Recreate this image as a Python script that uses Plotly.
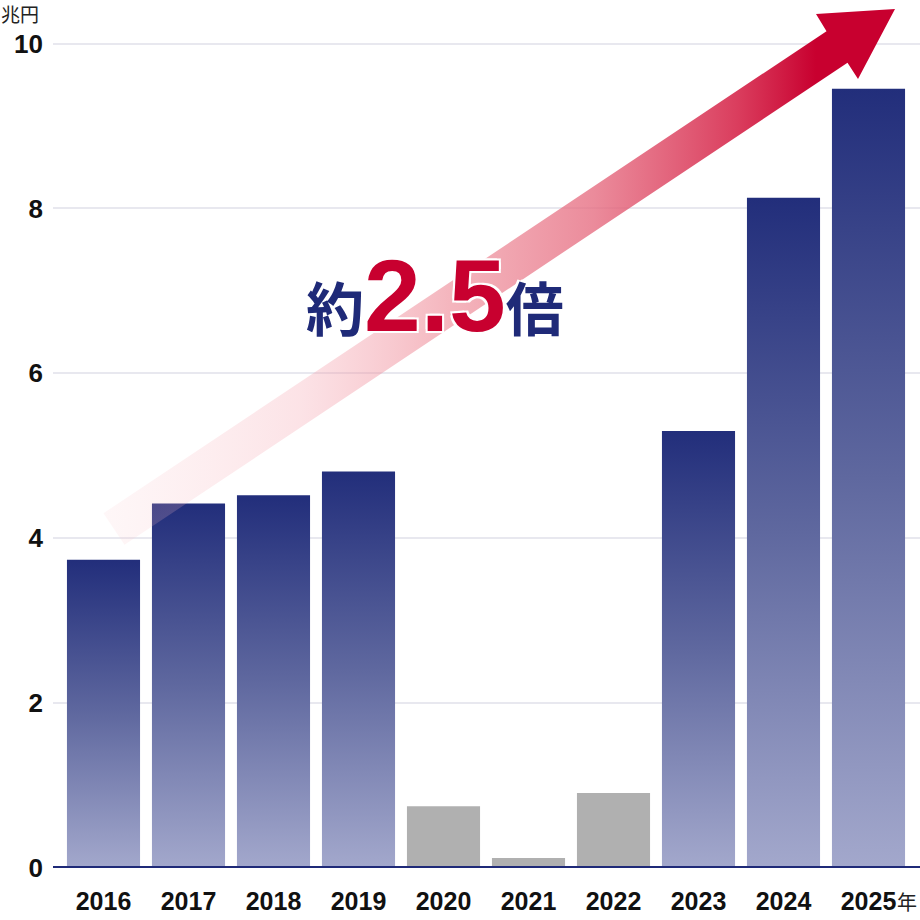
import plotly.graph_objects as go

years = ['2016', '2017', '2018', '2019', '2020', '2021', '2022', '2023', '2024', '2025']
values = [3.74, 4.42, 4.52, 4.81, 0.75, 0.12, 0.91, 5.30, 8.13, 9.45]
grey_years = ['2020', '2021', '2022']
y_ticks = [0, 2, 4, 6, 8, 10]

navy = '#1f2a78'
crimson = '#c8002f'

# pixel -> axis helpers (plot area: x 53..920, y 0..868)
px_per_x = 85.0
px_per_y = 82.45
def ax(px):
    return (px - 103.5) / px_per_x
def ay(py):
    return (868 - py) / px_per_y

fig = go.Figure()

bar_w = 0.86
for i, (yr, v) in enumerate(zip(years, values)):
    xs = [i - bar_w / 2, i + bar_w / 2, i + bar_w / 2, i - bar_w / 2, i - bar_w / 2]
    ys = [0, 0, v, v, 0]
    if yr in grey_years:
        fig.add_trace(go.Scatter(x=xs, y=ys, mode='lines', fill='toself',
                                 fillcolor='#b0b0b0', line=dict(width=0),
                                 hoverinfo='skip', showlegend=False))
    else:
        fig.add_trace(go.Scatter(x=xs, y=ys, mode='lines', fill='toself',
                                 fillgradient=dict(type='vertical',
                                                   colorscale=[[0, '#a3a8cc'], [0.5, '#5f689f'], [1, '#222e7b']]),
                                 line=dict(width=0), hoverinfo='skip', showlegend=False))

# arrow (drawn over the bars, semi transparent at the tail)
arrow_px = [(103.5, 513.2), (826.5, 31.2), (816, 14), (895, 9), (858, 79),
            (847.5, 62.8), (124.5, 544.8), (103.5, 513.2)]
fig.add_trace(go.Scatter(
    x=[ax(p[0]) for p in arrow_px], y=[ay(p[1]) for p in arrow_px],
    mode='lines', fill='toself', line=dict(width=0), hoverinfo='skip', showlegend=False,
    fillgradient=dict(type='horizontal', colorscale=[
        [0, 'rgba(250,200,205,0.15)'],
        [0.25, 'rgba(245,160,172,0.3)'],
        [0.44, 'rgba(235,120,135,0.55)'],
        [0.62, 'rgba(230,110,130,0.8)'],
        [0.8, 'rgba(215,45,80,0.92)'],
        [0.9, 'rgba(200,0,47,1)'],
        [1, 'rgba(200,0,47,1)']])))

fig.add_shape(type='line', xref='paper', x0=0, x1=1, yref='y', y0=0, y1=0,
              line=dict(color=navy, width=4), layer='above')

fig.add_annotation(
    x=ax(435), y=ay(296), xref='x', yref='y', showarrow=False,
    text=("<span style='color:%s;font-size:58px'>約</span>"
          "<span style='color:%s;font-size:102px'>2.5</span>"
          "<span style='color:%s;font-size:58px'>倍</span>") % (navy, crimson, navy),
    font=dict(family='Liberation Sans, Noto Sans CJK JP', size=58, weight=700,
              shadow='2px 2px 0 #fff, -2px -2px 0 #fff, 2px -2px 0 #fff, -2px 2px 0 #fff'))

fig.add_annotation(x=0, y=1, xref='paper', yref='paper', xanchor='left', yanchor='top',
                   xshift=-54, yshift=2, showarrow=False, text='兆円',
                   font=dict(family='Noto Sans CJK JP', size=19, color='#222'))
fig.add_annotation(x=1, y=0, xref='paper', yref='paper', xanchor='right', yanchor='middle',
                   xshift=-1, yshift=-33, showarrow=False, text='年',
                   font=dict(family='Noto Sans CJK JP', size=20, color='#222'))

fig.update_layout(
    width=920, height=920,
    margin=dict(l=53, r=0, t=0, b=52),
    paper_bgcolor='white', plot_bgcolor='white',
    xaxis=dict(range=[ax(53), ax(920)], tickvals=list(range(len(years))), ticktext=years,
               showgrid=False, zeroline=False, ticks='', ticklabelstandoff=16,
               tickfont=dict(family='Liberation Sans, Arial', size=25, color='#111', weight=700)),
    yaxis=dict(range=[0, ay(0)], tickvals=y_ticks, showgrid=True, gridcolor='#e8e8ef',
               gridwidth=2, zeroline=False, ticks='', ticklabelstandoff=9,
               tickfont=dict(family='Liberation Sans, Arial', size=26, color='#111', weight=700)),
)

fig.write_html("out.html", config={'displayModeBar': False},
               post_script="document.body.style.margin='0px';")
